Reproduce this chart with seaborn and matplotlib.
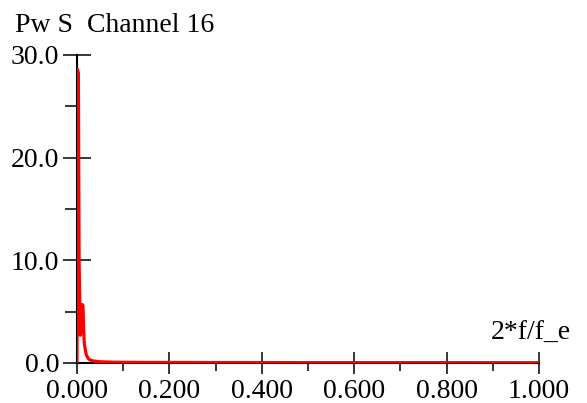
import matplotlib
matplotlib.use("Agg")
import matplotlib.pyplot as plt
from matplotlib.ticker import MultipleLocator, FormatStrFormatter
import seaborn as sns
import pandas as pd

# Power spectrum of channel 16 versus normalised frequency 2*f/f_e
freq = [0.0, 0.001, 0.003, 0.0045, 0.007, 0.009, 0.011, 0.013, 0.0145,
        0.016, 0.020, 0.024, 0.028, 0.035, 0.05, 0.08, 0.15, 0.3, 0.5,
        0.7, 1.0]
power = [0.0, 28.6, 28.2, 10.0, 2.7, 3.2, 5.7, 5.6, 3.0,
         1.8, 0.8, 0.45, 0.3, 0.2, 0.12, 0.08, 0.06, 0.05, 0.04,
         0.04, 0.03]

x_ticks = [0.0, 0.2, 0.4, 0.6, 0.8, 1.0]
y_ticks = [0.0, 10.0, 20.0, 30.0]

df = pd.DataFrame({"freq": freq, "power": power})

sns.set_style("ticks")
plt.rcParams["font.family"] = ["Liberation Serif", "DejaVu Serif"]
plt.rcParams["text.color"] = "black"
plt.rcParams["xtick.color"] = "black"
plt.rcParams["ytick.color"] = "black"
plt.rcParams["xtick.labelcolor"] = "black"
plt.rcParams["ytick.labelcolor"] = "black"

fig = plt.figure(figsize=(5.87, 4.03), dpi=100)
ax = fig.add_axes([77 / 587, 40 / 403, 462 / 587, 308 / 403])

sns.lineplot(data=df, x="freq", y="power", ax=ax, color="#ff0000",
             linewidth=2.3, zorder=3)

ax.set_xlim(0, 1)
ax.set_ylim(0, 30)
ax.set_xticks(x_ticks)
ax.set_yticks(y_ticks)
ax.xaxis.set_minor_locator(MultipleLocator(0.1))
ax.yaxis.set_minor_locator(MultipleLocator(5))
ax.xaxis.set_major_formatter(FormatStrFormatter("%.3f"))
ax.yaxis.set_major_formatter(FormatStrFormatter("%.1f"))
ax.set_xlabel("")
ax.set_ylabel("")

for side in ("top", "right"):
    ax.spines[side].set_visible(False)
for side in ("left", "bottom"):
    ax.spines[side].set_color("black")
    ax.spines[side].set_linewidth(1.5)
    ax.spines[side].set_zorder(2)

ax.tick_params(axis="y", which="major", direction="inout", length=19.5,
               width=1.1, color="black", labelcolor="black", labelsize=20,
               pad=3)
ax.tick_params(axis="y", which="minor", direction="out", length=8.5,
               width=1.1, color="black")
ax.tick_params(axis="x", which="major", direction="inout", length=15.5,
               width=1.1, color="black", labelcolor="black", labelsize=20,
               pad=3.5)
ax.tick_params(axis="x", which="minor", direction="out", length=6,
               width=1.1, color="black")

fig.text(15 / 587, (403 - 31.7) / 403, "Pw S  Channel 16", fontsize=20,
         color="black", ha="left", va="baseline")
fig.text(571 / 587, (403 - 340) / 403, "2*f/f_e", fontsize=20,
         color="black", ha="right", va="baseline")

fig.savefig("out.png", dpi=100)
